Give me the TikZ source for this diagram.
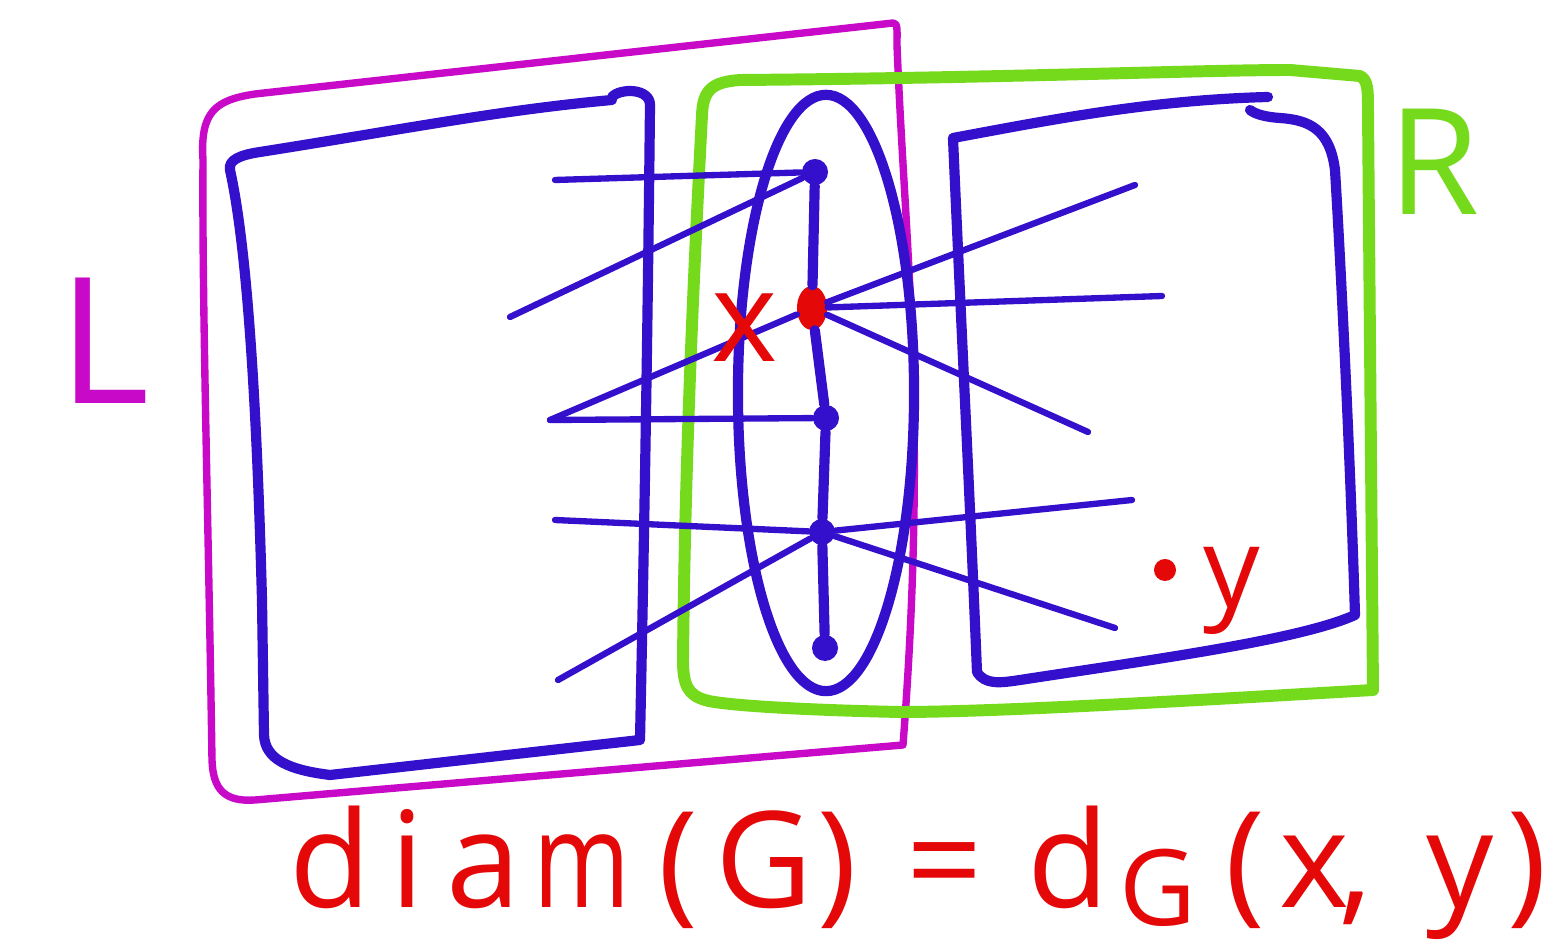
\documentclass[tikz,border=0pt]{standalone}
\usepackage{fontspec}
\setmainfont{Open Sans}
\usetikzlibrary{shapes.geometric}
\definecolor{myblue}{RGB}{52,16,204}
\definecolor{mymag}{RGB}{200,10,200}
\definecolor{mygreen}{RGB}{118,218,28}
\definecolor{myred}{RGB}{228,8,8}
\newcommand\fgl[1]{\makebox[0pt]{#1}}
\newcommand\fglm[1]{\makebox[0pt]{\scalebox{0.78}[1]{#1}}}
\begin{document}
\begin{tikzpicture}[x=0.01cm,y=-0.01cm,
  bluebox/.style={draw=myblue,line width=2.9pt,line cap=round,line join=round},
  blueedge/.style={draw=myblue,line width=1.8pt,line cap=round},
  magbox/.style={draw=mymag,line width=2.1pt,line cap=round,line join=round},
  greenbox/.style={draw=mygreen,line width=3.4pt,line cap=round,line join=round},
  vtx/.style={circle,fill=myblue,inner sep=0pt,minimum size=0.26cm},
  redvtx/.style={ellipse,fill=myred,inner sep=0pt,minimum width=0.3cm,minimum height=0.44cm},
  lbl/.style={inner sep=0pt}]
\useasboundingbox[fill=white] (0,0) rectangle (1562,949);
% magenta box L
\draw[magbox] (203,160) .. controls (200,112) and (215,100) .. (255,94) -- (893,23)
  .. controls (898,23) and (897,30) .. (897,45) .. controls (905,250) and (928,420) .. (903,745)
  -- (255,800) .. controls (225,802) and (213,790) .. (212,760)
  .. controls (208,500) and (202,300) .. (203,160) -- cycle;
% blue box left
\draw[bluebox] (612,97) .. controls (620,88) and (650,88) .. (650,105)
  .. controls (648,300) and (645,500) .. (640,740) -- (330,775)
  .. controls (290,770) and (265,760) .. (264,735)
  -- (262,600) .. controls (258,450) and (250,260) .. (230,170)
  .. controls (228,160) and (240,155) .. (260,152)
  .. controls (400,130) and (500,110) .. (612,100);
% blue box right
\draw[bluebox] (1268,97) .. controls (1150,100) and (1050,120) .. (953,138)
  .. controls (960,300) and (970,500) .. (977,672)
  .. controls (985,685) and (1000,683) .. (1020,680)
  .. controls (1150,660) and (1300,640) .. (1355,615)
  .. controls (1350,450) and (1340,250) .. (1335,170)
  .. controls (1330,130) and (1310,120) .. (1280,118)
  .. controls (1265,117) and (1255,114) .. (1250,110);
% green box R
\draw[greenbox] (702,115) .. controls (703,90) and (712,82) .. (740,80)
  .. controls (1000,78) and (1200,70) .. (1290,70) -- (1360,76)
  .. controls (1368,80) and (1368,90) .. (1368,110) -- (1373,690)
  .. controls (1200,700) and (1000,712) .. (900,712)
  .. controls (800,710) and (720,705) .. (705,700)
  .. controls (688,695) and (683,685) .. (683,660)
  .. controls (685,450) and (695,250) .. (702,115);
% ellipse
\draw[bluebox] (826,393) ellipse [x radius=0.88cm, y radius=2.98cm];
% vertices
\node[vtx] (v1) at (815,172) {};
\node[redvtx] (v2) at (812,308) {};
\node[vtx] (v3) at (826,418) {};
\node[vtx] (v4) at (822,532) {};
\node[vtx] (v5) at (825,648) {};
\draw[bluebox] (v1) -- (v2) -- (v3) -- (v4) -- (v5);
% free ends
\coordinate (a1) at (555,180);
\coordinate (a2) at (510,317);
\coordinate (a3) at (550,420);
\coordinate (a5) at (555,520);
\coordinate (a6) at (558,680);
\coordinate (b1) at (1135,185);
\coordinate (b2) at (1162,296);
\coordinate (b3) at (1088,432);
\coordinate (b4) at (1132,500);
\coordinate (b5) at (1115,628);
\draw[blueedge] (a1) -- (v1);
\draw[blueedge] (a2) -- (v1);
\draw[blueedge] (a3) -- (v2);
\draw[blueedge] (a3) -- (v3);
\draw[blueedge] (a5) -- (v4);
\draw[blueedge] (a6) -- (v4);
\draw[blueedge] (v2) -- (b1);
\draw[blueedge] (v2) -- (b2);
\draw[blueedge] (v2) -- (b3);
\draw[blueedge] (v4) -- (b4);
\draw[blueedge] (v4) -- (b5);
% labels
\node[lbl,text=myred,font=\fontsize{36}{36}\selectfont] (xl) at (745,328) {x};
\node[circle,fill=myred,inner sep=0pt,minimum size=0.22cm] (ydot) at (1165,570) {};
\node[lbl,text=myred,font=\fontsize{32}{32}\selectfont,anchor=base] (yl) at (1232,608) {y};
\node[lbl,text=mymag,font=\fontsize{50}{50}\selectfont,anchor=base west] (Ll) at (58,404) {L};
\node[lbl,text=mygreen,font=\fontsize{42}{42}\selectfont,anchor=base west] (Rl) at (1388,215) {R};
\node[lbl,text=myred,font=\fontsize{38}{38}\selectfont,anchor=base west] (form) at (330,908)
  {\fgl{d}\hspace{0.77cm}\fgl{i}\hspace{0.76cm}\fgl{a}\hspace{0.98cm}\fglm{m}\hspace{0.96cm}%
   \fgl{(}\hspace{0.86cm}\fgl{G}\hspace{0.73cm}\fgl{)}\hspace{1.08cm}\fgl{=}\hspace{1.23cm}%
   \fgl{d}\hspace{0.90cm}\raisebox{-5pt}{\fontsize{30}{30}\selectfont\fgl{G}}\hspace{0.87cm}%
   \fgl{(}\hspace{0.69cm}\fgl{x}\hspace{0.42cm}\fgl{,}\hspace{1.04cm}\fgl{y}\hspace{0.67cm}\fgl{)}};
\end{tikzpicture}
\end{document}
